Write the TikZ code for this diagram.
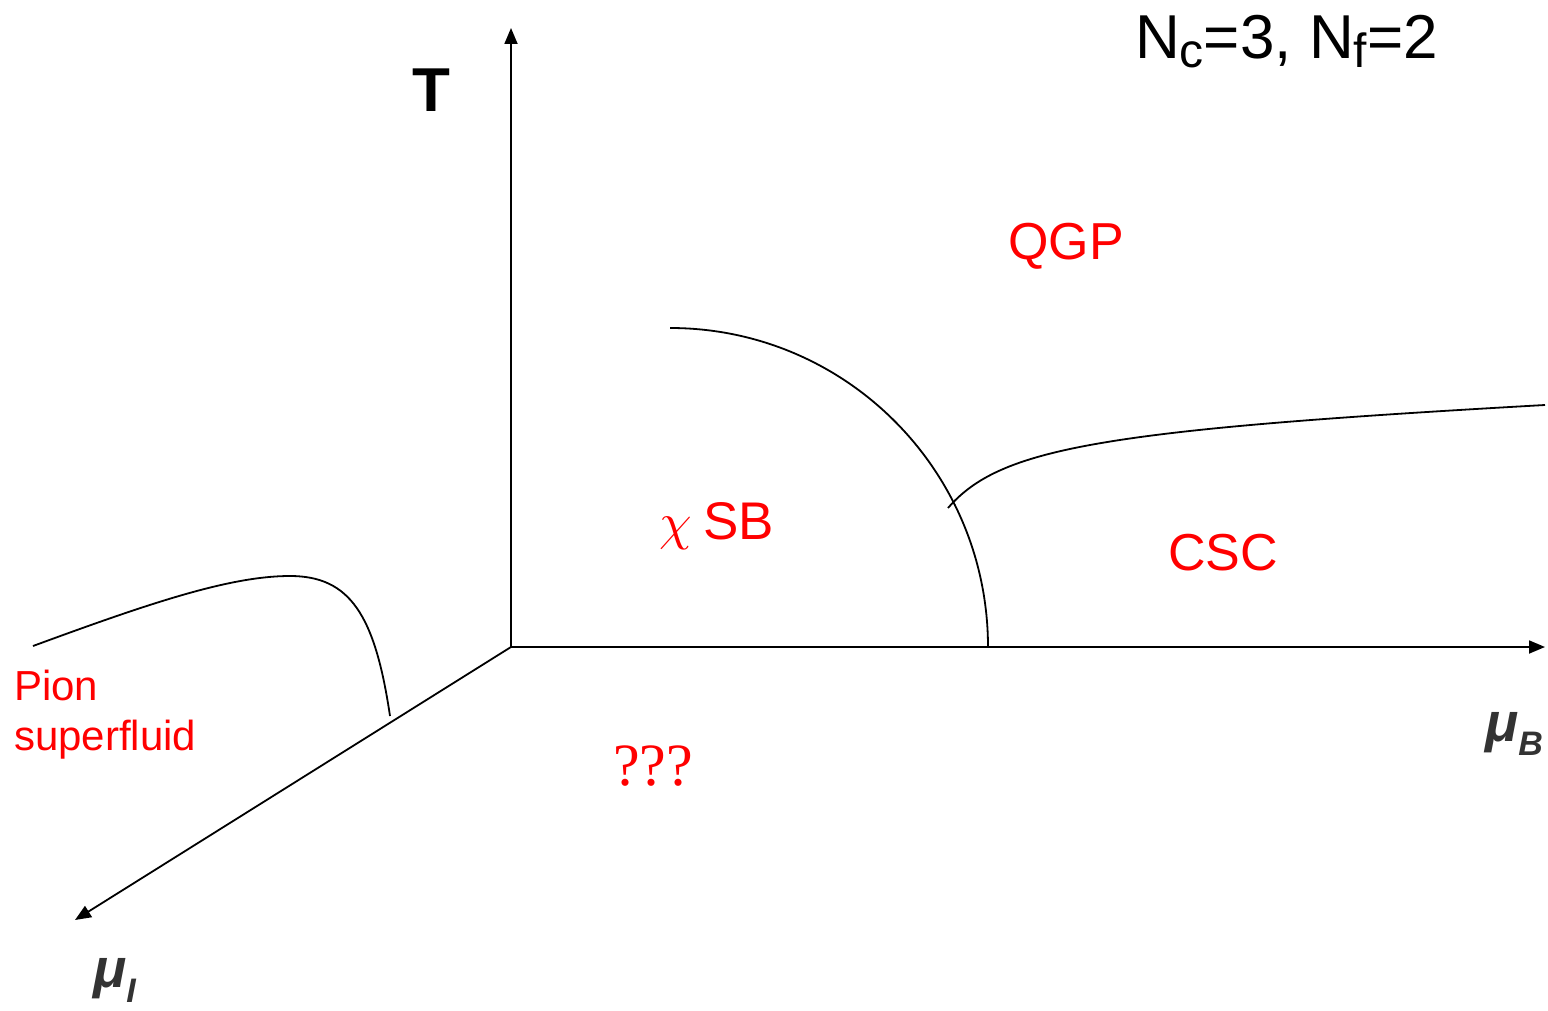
\documentclass[tikz,border=0pt]{standalone}
\usepackage{fontspec}
\setmainfont{Liberation Sans}
\newfontfamily\serifff{Liberation Serif}
\usetikzlibrary{arrows.meta}
\definecolor{lblred}{RGB}{255,0,0}
\definecolor{axgray}{RGB}{51,51,51}
\tikzset{
  axisline/.style={line width=1.8pt,-{Triangle[length=16pt,width=13pt]}},
  phaseline/.style={line width=1.8pt},
  lbl/.style={inner sep=0pt,anchor=base west},
  redlbl/.style={lbl,text=lblred},
}
\begin{document}
\begin{tikzpicture}[x=1pt,y=-1pt]
\useasboundingbox (0,0) rectangle (1548,1011);
% axes
\coordinate (O) at (511,647);
\coordinate (Tend) at (511,28);
\coordinate (Bend) at (1545,647);
\coordinate (Iend) at (75,920);
\draw[axisline] (O) -- (Tend);
\draw[axisline] (O) -- (Bend);
\draw[axisline] (O) -- (Iend);
% phase boundaries
\coordinate (a1) at (670,328);
\coordinate (a2) at (988,647);
\draw[phaseline] (a1) .. controls (846,328) and (988,471) .. (a2);
\coordinate (c1) at (948,508);
\coordinate (c2) at (1545,405);
\draw[phaseline] (c1) .. controls (1000,448) and (1100,430) .. (c2);
\coordinate (p1) at (33,646);
\coordinate (p2) at (290,576);
\coordinate (p3) at (390,716);
\draw[phaseline] (p1) .. controls (150,603) and (230,576) .. (p2)
  .. controls (350,576) and (375,615) .. (p3);
% labels
\node[lbl,font=\fontsize{62}{62}\selectfont\bfseries] (T) at (412,112) {T};
\node[lbl,font=\fontsize{62}{62}\selectfont] (N) at (1135,59)
  {N\raisebox{-9pt}{\fontsize{48}{48}\selectfont c}=3, N\raisebox{-9pt}{\fontsize{48}{48}\selectfont f}=2};
\node[redlbl,font=\fontsize{52}{52}\selectfont] (QGP) at (1008,260) {QGP};
\node[redlbl,font=\fontsize{52}{52}\selectfont] (CSC) at (1168,570) {CSC};
\node[redlbl,font=\fontsize{53}{53}\selectfont] (SB) at (659,539)
  {\scalebox{5.2}{\normalsize$\chi$}\hspace{-3pt} SB};
\node[redlbl,font=\fontsize{42}{42}\selectfont] (Pion) at (14,700) {Pion};
\node[redlbl,font=\fontsize{42}{42}\selectfont] (Sf) at (14,750) {superfluid};
\node[redlbl,font=\fontsize{60}{60}\selectfont\serifff] (Q) at (613,785) {???};
\node[lbl,text=axgray,font=\fontsize{55}{55}\selectfont\bfseries\itshape] (muB) at (1485,741)
  {μ\raisebox{-14pt}{\fontsize{34}{34}\selectfont B}};
\node[lbl,text=axgray,font=\fontsize{55}{55}\selectfont\bfseries\itshape] (muI) at (93,987)
  {μ\raisebox{-15pt}{\fontsize{34}{34}\selectfont I}};
\end{tikzpicture}
\end{document}
